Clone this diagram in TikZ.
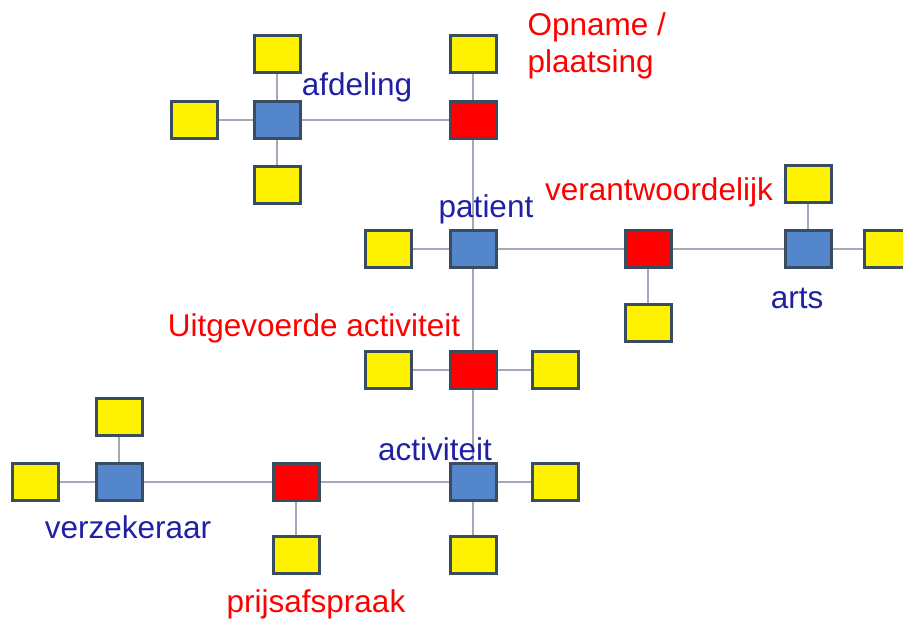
\documentclass[tikz,border=0pt]{standalone}
\usepackage{fontspec}
\setmainfont{Liberation Sans}
\usetikzlibrary{calc}

\definecolor{boxblue}{RGB}{84,134,204}
\definecolor{boxrim}{RGB}{58,76,96}
\definecolor{txtblue}{RGB}{32,32,165}
\definecolor{linkgray}{RGB}{160,170,186}

\tikzset{
    box/.style={draw=boxrim,line width=3pt,minimum width=46pt,minimum height=37pt,inner sep=0pt},
    entity/.style={box,fill=boxblue},
    relation/.style={box,fill=red},
    attr/.style={box,fill=yellow},
    link/.style={draw=linkgray,line width=1.6pt},
    lbl/.style={font=\fontsize{31.5}{37}\selectfont},
}

\begin{document}
\begin{tikzpicture}[x=1pt,y=-1pt]
            \useasboundingbox (0,0) rectangle (903,620);
            % entiteiten en relaties
            \node[entity] (afd) at (277,120) {};
            \node[relation] (opn) at (473,120) {};
            \node[entity] (pat) at (473,249) {};
            \node[relation] (ver) at (648,249) {};
            \node[entity] (art) at (808,249) {};
            \node[relation] (uit) at (473,370) {};
            \node[entity] (act) at (473,482) {};
            \node[relation] (prs) at (296,482) {};
            \node[entity] (vzk) at (119,482) {};
            % attributen
            \node[attr] (afdT) at (277,54) {};
            \node[attr] (afdL) at (194,120) {};
            \node[attr] (afdB) at (277,185) {};
            \node[attr] (opnT) at (473,54) {};
            \node[attr] (patL) at (388,249) {};
            \node[attr] (verB) at (648,323) {};
            \node[attr] (artT) at (808,184) {};
            \node[attr] (artR) at (887,249) {};
            \node[attr] (uitL) at (388,370) {};
            \node[attr] (uitR) at (555,370) {};
            \node[attr] (actR) at (555,482) {};
            \node[attr] (actB) at (473,555) {};
            \node[attr] (prsB) at (296,555) {};
            \node[attr] (vzkT) at (119,417) {};
            \node[attr] (vzkL) at (35,482) {};
            % verbindingen
            \foreach \a/\b in {afd/opn,opn/pat,pat/ver,ver/art,pat/uit,uit/act,act/prs,prs/vzk,
                afd/afdT,afd/afdL,afd/afdB,opn/opnT,pat/patL,ver/verB,art/artT,art/artR,
                uit/uitL,uit/uitR,act/actR,act/actB,prs/prsB,vzk/vzkT,vzk/vzkL}
                \draw[link] (\a) -- (\b);
            % teksten
            \node[lbl,txtblue] (tafd) at (357,87) {afdeling};
            \node[lbl,red,align=left,anchor=north west] (topn) at (524,9) {Opname /\\plaatsing};
            \node[lbl,txtblue] (tpat) at (486,209) {patient};
            \node[lbl,red] (tver) at (659,192) {verantwoordelijk};
            \node[lbl,txtblue] (tart) at (797,298) {arts};
            \node[lbl,red] (tuit) at (314,328) {Uitgevoerde activiteit};
            \node[lbl,txtblue] (tact) at (435,449) {activiteit};
            \node[lbl,txtblue] (tvzk) at (128,527) {verzekeraar};
            \node[lbl,red] (tprs) at (316,604) {prijsafspraak};
        \end{tikzpicture}
\end{document}
